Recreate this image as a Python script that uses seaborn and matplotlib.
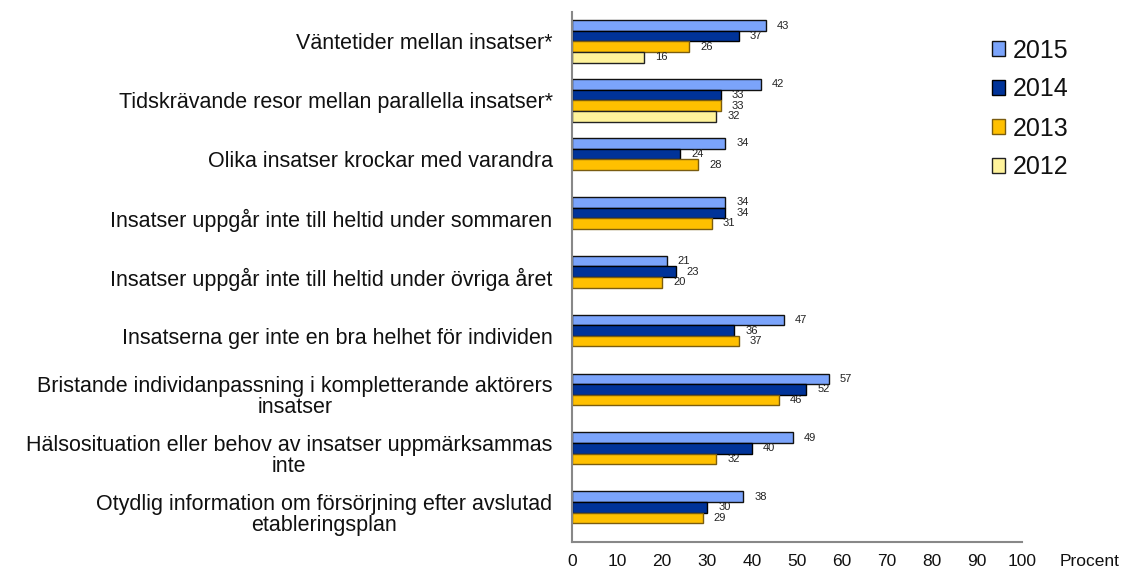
import pandas as pd
import matplotlib
matplotlib.use('Agg')
import matplotlib.pyplot as plt
import seaborn as sns

# Categories, top to bottom
categories = [
    'Väntetider mellan insatser*',
    'Tidskrävande resor mellan parallella insatser*',
    'Olika insatser krockar med varandra',
    'Insatser uppgår inte till heltid under sommaren',
    'Insatser uppgår inte till heltid under övriga året',
    'Insatserna ger inte en bra helhet för individen',
    'Bristande individanpassning i kompletterande aktörers\ninsatser',
    'Hälsosituation eller behov av insatser uppmärksammas\ninte',
    'Otydlig information om försörjning efter avslutad\netableringsplan',
]
years = ['2015', '2014', '2013', '2012']

# Percent per year (None = not asked that year)
vals_2015 = [43, 42, 34, 34, 21, 47, 57, 49, 38]
vals_2014 = [37, 33, 24, 34, 23, 36, 52, 40, 30]
vals_2013 = [26, 33, 28, 31, 20, 37, 46, 32, 29]
vals_2012 = [16, 32, None, None, None, None, None, None, None]

fill_colors = ['#7BA4FB', '#003399', '#FFC000', '#FFF39B']
edge_colors = ['#111111', '#000000', '#7A5C10', '#222222']

rows = []
for year, vals in zip(years, [vals_2015, vals_2014, vals_2013, vals_2012]):
    for cat, v in zip(categories, vals):
        if v is not None:
            rows.append({'kategori': cat, 'år': year, 'värde': v})
df = pd.DataFrame(rows)

sns.set_style('white')
plt.rcParams['font.family'] = ['Liberation Sans', 'DejaVu Sans']
plt.rcParams['text.color'] = '#111111'
plt.rcParams['xtick.color'] = '#111111'
plt.rcParams['ytick.color'] = '#111111'

fig = plt.figure(figsize=(11.29, 5.70), dpi=100)
ax = fig.add_axes([572 / 1129, 28 / 570, 450 / 1129, 530 / 570])

sns.barplot(data=df, y='kategori', x='värde', hue='år', order=categories,
            hue_order=years, palette=fill_colors, orient='h', width=0.72,
            errorbar=None, ax=ax, saturation=1)

for i, cont in enumerate(ax.containers):
    for patch in cont:
        patch.set_edgecolor(edge_colors[i])
        patch.set_linewidth(1.0)
    ax.bar_label(cont, fmt='%d', padding=8, fontsize=8, color='#222222')

ax.set_xlim(0, 100)
ax.set_ylim(len(categories) - 0.5, -0.5)
ax.set_xticks(range(0, 101, 10))
ax.set_xlabel('')
ax.set_ylabel('')
ax.tick_params(axis='x', labelsize=12.5, length=4, color='#888888', labelcolor='#111111',
               direction='out', pad=5)
ax.set_yticks(range(len(categories)))
ax.set_yticklabels(categories, fontsize=15.5, multialignment='center', linespacing=1.0)
ax.tick_params(axis='y', which='major', length=0, pad=14, labelcolor='#111111')
ax.set_yticks([i - 0.5 for i in range(len(categories) + 1)], minor=True)
ax.tick_params(axis='y', which='minor', length=5, color='#888888', direction='out')

for side in ['top', 'right']:
    ax.spines[side].set_visible(False)
for side in ['left', 'bottom']:
    ax.spines[side].set_color('#888888')
    ax.spines[side].set_linewidth(1.5)

fig.text(1060 / 1129, 1 - 561 / 570, 'Procent', fontsize=12.5, va='center', ha='left')

ax.get_legend().remove()
handles = [cont.patches[0] for cont in ax.containers]
fig.legend(handles, years, loc='upper left', bbox_to_anchor=(969 / 1129, 1 - 16 / 570),
           frameon=False, fontsize=18, handlelength=0.55, handleheight=0.55,
           handletextpad=0.3, labelspacing=0.6)

fig.savefig('out.png', dpi=100)
